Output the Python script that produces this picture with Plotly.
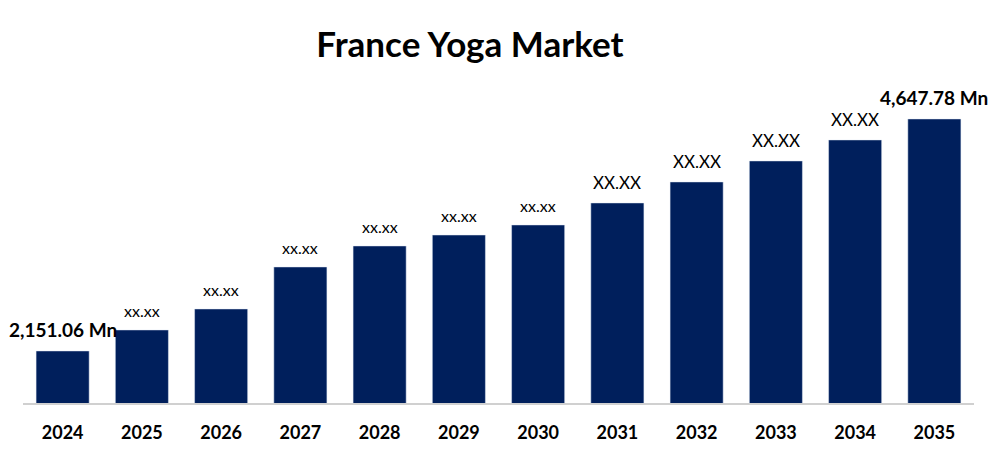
import plotly.graph_objects as go

years = ["2024", "2025", "2026", "2027", "2028", "2029", "2030", "2031", "2032", "2033", "2034", "2035"]
values = [2151.06, 2377, 2603, 3055, 3281, 3399, 3507, 3744, 3970, 4196, 4422, 4647.78]
labels = ["2,151.06 Mn", "xx.xx", "xx.xx", "xx.xx", "xx.xx", "xx.xx", "xx.xx",
          "XX.XX", "XX.XX", "XX.XX", "XX.XX", "4,647.78 Mn"]

NAVY = "#001F5C"
FONT = "Lato, 'Noto Sans', sans-serif"

# page body has an 8px margin, so the figure is 8px smaller than the window
W, H = 988, 448

fig = go.Figure(go.Bar(x=years, y=values, marker_color=NAVY, width=0.67))

for i, (v, lab) in enumerate(zip(values, labels)):
    end = i in (0, len(years) - 1)
    upper = lab.startswith("XX")
    fig.add_annotation(
        x=i, y=v, text=f"<b>{lab}</b>" if end else lab,
        showarrow=False, yanchor="bottom", yshift=8,
        font=dict(family=FONT, size=19 if end else (17 if upper else 16), color="#000000"),
    )

fig.update_layout(
    title=dict(text="<b>France Yoga Market</b>", x=462 / W, xanchor="center",
               yref="container", y=1 - 37 / H, yanchor="middle",
               font=dict(family=FONT, size=35, color="#000000")),
    width=W, height=H,
    margin=dict(l=15, r=22, t=72, b=53),
    paper_bgcolor="white", plot_bgcolor="white",
    showlegend=False,
)
fig.update_xaxes(type="category", range=[-0.5, len(years) - 0.5],
                 showline=True, linecolor="#D0D0D0", linewidth=2, ticks="",
                 tickfont=dict(family=FONT, size=18, color="#000000"),
                 tickprefix="<b>", ticksuffix="</b>", ticklabelstandoff=12, automargin=False)
fig.update_yaxes(range=[1591, 5067], visible=False, showgrid=False)

fig.write_html("out.html")
